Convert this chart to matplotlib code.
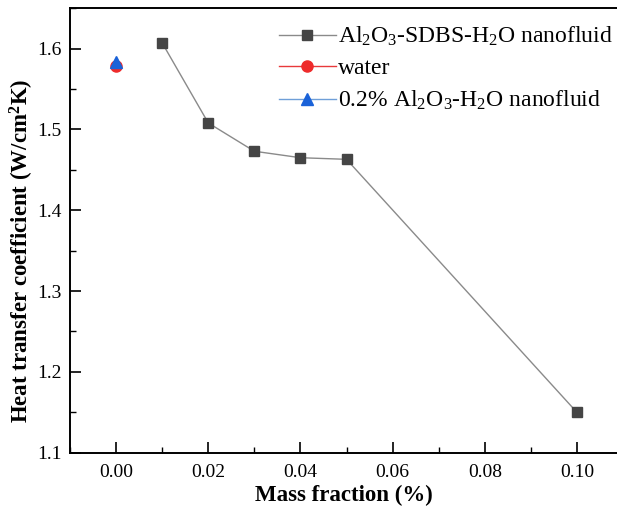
import numpy as np
import matplotlib
matplotlib.use("Agg")
import matplotlib.pyplot as plt
from matplotlib.ticker import MultipleLocator, FormatStrFormatter

plt.rcParams['font.family'] = 'Liberation Serif'
plt.rcParams['mathtext.fontset'] = 'custom'
plt.rcParams['mathtext.rm'] = 'Liberation Serif'
plt.rcParams['mathtext.it'] = 'Liberation Serif:italic'
plt.rcParams['mathtext.bf'] = 'Liberation Serif:bold'

# data
mass_fraction = [0.01, 0.02, 0.03, 0.04, 0.05, 0.10]
htc_sdbs = [1.607, 1.508, 1.473, 1.465, 1.463, 1.150]
water_x = [0.0]
water_htc = [1.578]
al2o3_x = [0.0]
al2o3_htc = [1.584]

fig = plt.figure(figsize=(6.17, 5.11), dpi=100)
ax = fig.add_axes([0.1135, 0.114, 0.8865, 0.87])

ax.plot(mass_fraction, htc_sdbs, color='#8a8a8a', linewidth=1.0,
        marker='s', markersize=7, markerfacecolor='#454545', markeredgecolor='#454545',
        label=r'Al$_2$O$_3$-SDBS-H$_2$O nanofluid')
ax.plot(water_x, water_htc, color='#e8393b', linewidth=1.0,
        marker='o', markersize=8, markerfacecolor='#ee2b2b', markeredgecolor='#ee2b2b',
        label='water')
ax.plot(al2o3_x, al2o3_htc, color='#6f9fd8', linewidth=1.0,
        marker='^', markersize=8, markerfacecolor='#1a62d8', markeredgecolor='#1a62d8',
        label=r'0.2% Al$_2$O$_3$-H$_2$O nanofluid')

ax.set_xlim(-0.01, 0.1087)
ax.set_ylim(1.1, 1.65)
ax.xaxis.set_major_locator(MultipleLocator(0.02))
ax.xaxis.set_minor_locator(MultipleLocator(0.01))
ax.yaxis.set_major_locator(MultipleLocator(0.1))
ax.yaxis.set_minor_locator(MultipleLocator(0.05))
ax.xaxis.set_major_formatter(FormatStrFormatter('%.2f'))
ax.yaxis.set_major_formatter(FormatStrFormatter('%.1f'))
ax.tick_params(which='major', direction='in', length=8, width=1.2, labelsize=14)
ax.tick_params(axis='x', which='major', pad=8)
ax.tick_params(axis='y', which='major', pad=6)
ax.tick_params(which='minor', direction='in', length=4, width=1.0)
ax.tick_params(top=False, right=False)
for s in ['left', 'bottom', 'top']:
    ax.spines[s].set_linewidth(1.4)
ax.spines['right'].set_visible(False)

ax.set_xlabel('Mass fraction (%)', fontsize=16.5, fontweight='bold', labelpad=3)
ax.set_ylabel(r'Heat transfer coefficient (W/cm$\mathbf{^2}$K)', fontsize=16.5,
              fontweight='bold')
ax.yaxis.set_label_coords(-0.062, 0.455)

ax.legend(loc='upper right', bbox_to_anchor=(1.01, 0.983), frameon=False,
          fontsize=17, handlelength=2.4, handletextpad=0.1, labelspacing=0.4,
          borderaxespad=0.0)

fig.savefig('out.png', dpi=100)
